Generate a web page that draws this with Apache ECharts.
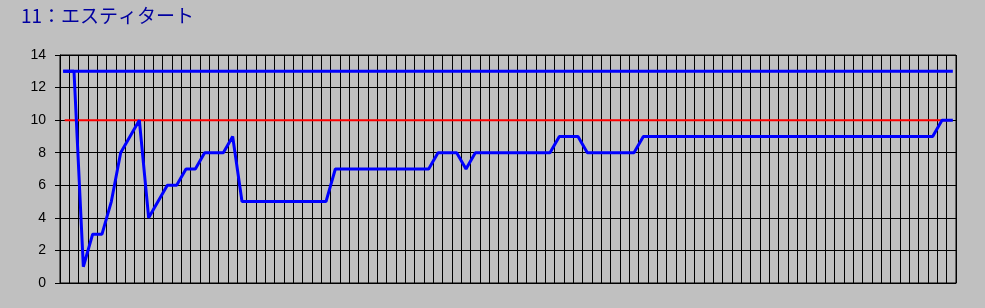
<!DOCTYPE html>
<html>
<head>
<meta charset="utf-8">
<script src="https://cdn.jsdelivr.net/npm/echarts@6/dist/echarts.min.js"></script>
<style>
html,body{margin:0;padding:0;background:#c0c0c0;}
#chart{width:985px;height:308px;}
</style>
</head>
<body>
<div id="chart"></div>
<script>
const titleText = '11：エスティタート';
const categories = Array.from({length: 96}, (_, i) => String(i + 1));
const yTicks = [0, 2, 4, 6, 8, 10, 12, 14];
const upperLimit = 13;
const targetValue = 10;
const values = [
  13, 13, 1, 3, 3, 5, 8, 9, 10, 4,
  5, 6, 6, 7, 7, 8, 8, 8, 9,
  5, 5, 5, 5, 5, 5, 5, 5, 5, 5,
  7, 7, 7, 7, 7, 7, 7, 7, 7, 7, 7,
  8, 8, 8,
  7,
  8, 8, 8, 8, 8, 8, 8, 8, 8,
  9, 9, 9,
  8, 8, 8, 8, 8, 8,
  9, 9, 9, 9, 9, 9, 9, 9, 9, 9, 9, 9, 9, 9, 9, 9,
  9, 9, 9, 9, 9, 9, 9, 9, 9, 9, 9, 9, 9, 9, 9, 9,
  10, 10
];

const first = categories[0];
const last = categories[categories.length - 1];

const chart = echarts.init(document.getElementById('chart'), null, {renderer: 'canvas'});
chart.setOption({
  backgroundColor: '#c0c0c0',
  animation: false,
  title: {
    text: titleText,
    left: 16,
    top: 1,
    textStyle: {
      color: '#0000a0',
      fontSize: 19,
      fontWeight: 'normal',
      fontFamily: 'Noto Sans CJK JP'
    }
  },
  grid: {
    left: 60, right: 29, top: 55, bottom: 25,
    show: true, borderColor: '#000', borderWidth: 1, backgroundColor: 'transparent',
    containLabel: false
  },
  xAxis: {
    type: 'category',
    data: categories,
    boundaryGap: true,
    axisLine: {show: true, lineStyle: {color: '#000', width: 1}},
    axisTick: {show: false},
    axisLabel: {show: false},
    splitLine: {show: true, interval: 0, lineStyle: {color: '#000', width: 1}}
  },
  yAxis: {
    type: 'value',
    min: yTicks[0],
    max: yTicks[yTicks.length - 1],
    interval: 2,
    axisLine: {show: true, lineStyle: {color: '#000', width: 1}},
    axisTick: {show: true, length: 5, lineStyle: {color: '#000'}},
    axisLabel: {
      color: '#000', fontSize: 14, margin: 14,
      fontFamily: 'Liberation Sans, Arial, sans-serif'
    },
    splitLine: {show: true, lineStyle: {color: '#000', width: 1}}
  },
  series: [
    {
      name: 'target',
      type: 'line',
      data: [[first, targetValue], [last, targetValue]],
      symbol: 'none',
      lineStyle: {color: '#ff0000', width: 2},
      z: 2
    },
    {
      name: 'upper',
      type: 'line',
      data: [[first, upperLimit], [last, upperLimit]],
      symbol: 'none',
      lineStyle: {color: '#0000ff', width: 3, cap: 'square'},
      z: 3
    },
    {
      name: 'values',
      type: 'line',
      data: values,
      symbol: 'none',
      lineStyle: {color: '#0000ff', width: 3, cap: 'square'},
      z: 4
    }
  ]
});
</script>
</body>
</html>
